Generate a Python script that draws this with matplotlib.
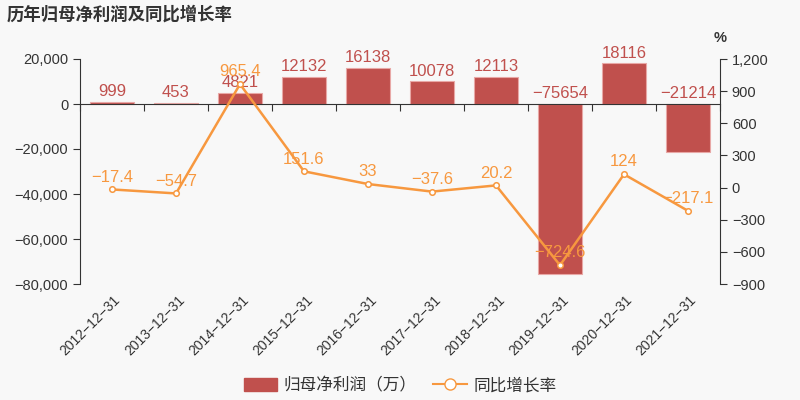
import matplotlib
matplotlib.use("Agg")
import matplotlib.pyplot as plt
from matplotlib.ticker import FuncFormatter, FixedLocator
from matplotlib.lines import Line2D
from matplotlib.patches import Patch
import matplotlib.transforms as mtrans

plt.rcParams['font.family'] = ['Liberation Sans', 'Noto Sans CJK SC', 'DejaVu Sans']
plt.rcParams['axes.unicode_minus'] = True

title = "历年归母净利润及同比增长率"
categories = ["2012-12-31", "2013-12-31", "2014-12-31", "2015-12-31", "2016-12-31",
              "2017-12-31", "2018-12-31", "2019-12-31", "2020-12-31", "2021-12-31"]
profit = [999, 453, 4821, 12132, 16138, 10078, 12113, -75654, 18116, -21214]
growth = [-17.4, -54.7, 965.4, 151.6, 33, -37.6, 20.2, -724.6, 124, -217.1]
bar_name = "归母净利润（万）"
line_name = "同比增长率"
left_ticks = [20000, 0, -20000, -40000, -60000, -80000]
right_ticks = [1200, 900, 600, 300, 0, -300, -600, -900]

BAR_C = '#c0504d'
LINE_C = '#f7983f'
TXT = '#333333'
BG = '#f8f8f8'

fig = plt.figure(figsize=(8, 4), dpi=100, facecolor=BG)
ax = fig.add_axes([0.1, 0.29, 0.8, 0.5625])
ax.set_facecolor('none')
ax2 = ax.twinx()
ax2.set_facecolor('none')

def fmt(v):
    s = f"{v:,.0f}" if abs(v) >= 1000 else f"{v:g}"
    return s.replace('-', '\u2212')

x = list(range(len(categories)))
ax.bar(x, profit, width=0.68, color=BAR_C, edgecolor='#e8a8a6', linewidth=0.8, zorder=2)
ax.set_ylim(-80000, 20000)
ax.set_xlim(-0.5, len(categories) - 0.5)
ax.yaxis.set_major_locator(FixedLocator(left_ticks))
ax.yaxis.set_major_formatter(FuncFormatter(lambda v, p: fmt(v)))

for xi, v in zip(x, profit):
    ax.text(xi, max(v, 0) + 1200, str(v).replace('-', '\u2212'),
            ha='center', va='bottom', color=BAR_C, fontsize=12, zorder=5)

ax2.plot(x, growth, color=LINE_C, lw=1.8, marker='o', markersize=4,
         markerfacecolor='white', markeredgecolor=LINE_C, markeredgewidth=1.1, zorder=4)
ax2.set_ylim(-900, 1200)
ax2.yaxis.set_major_locator(FixedLocator(right_ticks))
ax2.yaxis.set_major_formatter(FuncFormatter(lambda v, p: fmt(v)))
for xi, v in zip(x, growth):
    ax2.text(xi, v + 45, f"{v:g}".replace('-', '\u2212'), ha='center', va='bottom',
             color=LINE_C, fontsize=12, zorder=6)

# spines
for a in (ax, ax2):
    a.spines['top'].set_visible(False)
ax.spines['right'].set_visible(False)
ax2.spines['left'].set_visible(False)
ax2.spines['bottom'].set_visible(False)
ax.spines['left'].set_color(TXT)
ax2.spines['right'].set_color(TXT)
ax.spines['bottom'].set_position(('data', 0))
ax.spines['bottom'].set_color(TXT)
ax.spines['bottom'].set_zorder(3)
ax.xaxis.set_major_locator(FixedLocator([i - 0.5 for i in range(len(categories) + 1)]))
ax.set_xticklabels([])
ax.tick_params(axis='x', length=5, color=TXT)
ax.tick_params(axis='y', length=5, color=TXT, labelcolor=TXT, labelsize=10.5)
ax2.tick_params(axis='y', length=5, color=TXT, labelcolor=TXT, labelsize=10.5)

trans = mtrans.blended_transform_factory(ax.transData, ax.transAxes)
for xi, c in zip(x, categories):
    ax.text(xi + 0.02, -0.04, c.replace('-', '\u2212'), transform=trans, rotation=45,
            ha='right', va='top', rotation_mode='anchor', fontsize=10, color=TXT)

fig.text(0.9, 0.905, '%', ha='center', va='center', fontsize=10.5, color=TXT, fontweight='bold')
fig.text(0.008, 0.965, title, ha='left', va='center', fontsize=12.5, fontweight='bold', color=TXT)

handles = [Patch(facecolor=BAR_C, edgecolor=BAR_C),
           Line2D([0], [0], color=LINE_C, lw=1.5, marker='o', markersize=8,
                  markerfacecolor='white', markeredgecolor=LINE_C)]
leg = fig.legend(handles, [bar_name, line_name], loc='center', bbox_to_anchor=(0.5, 0.037),
                 ncol=2, frameon=False, fontsize=12, handlelength=2.0, handleheight=0.9,
                 columnspacing=1.0, handletextpad=0.4, labelcolor=TXT)

fig.savefig('out.png', dpi=100, facecolor=BG)
